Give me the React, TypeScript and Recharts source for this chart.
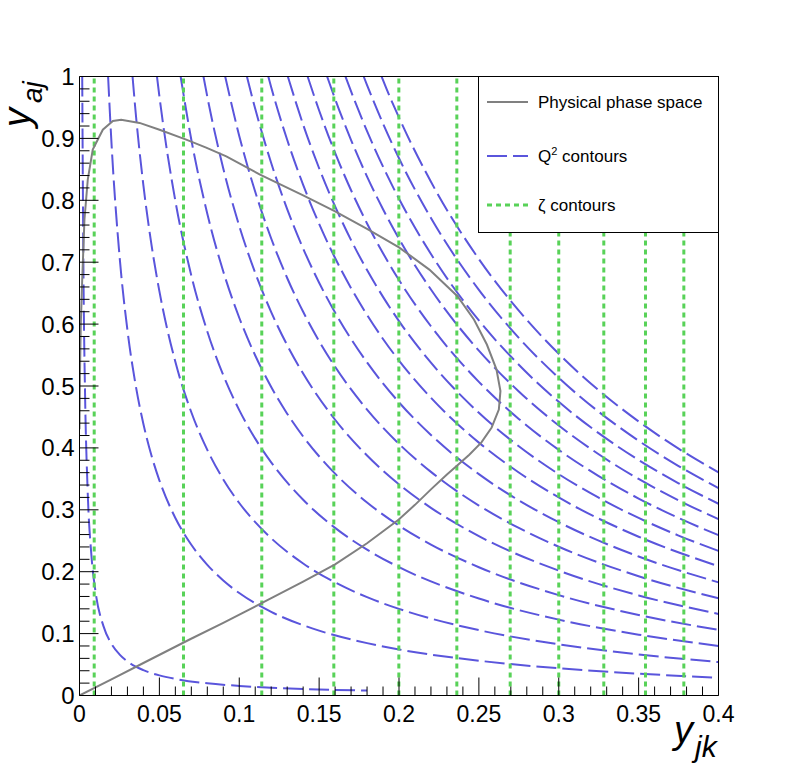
import React from 'react';
import { ComposedChart, Line, XAxis, YAxis, ReferenceLine } from 'recharts';

// ---------- data (y_jk, y_aj) ----------
const physicalPhaseSpace: number[][] = [
  [0, 0.43], [0.0003, 0.52], [0.0008, 0.6], [0.0017, 0.672], [0.0031, 0.769], [0.0052, 0.834],
  [0.0083, 0.882], [0.0146, 0.914], [0.0209, 0.928], [0.0261, 0.93], [0.0376, 0.925], [0.0501, 0.914],
  [0.0668, 0.898], [0.0793, 0.885], [0.0919, 0.871], [0.1127, 0.842], [0.14, 0.808], [0.16, 0.782],
  [0.18, 0.754], [0.2, 0.724], [0.219, 0.688], [0.2366, 0.645], [0.247, 0.607], [0.255, 0.567],
  [0.261, 0.527], [0.2635, 0.492], [0.2625, 0.462], [0.258, 0.433], [0.2516, 0.409], [0.244, 0.389],
  [0.2366, 0.372], [0.23, 0.357], [0.22, 0.333], [0.21, 0.308], [0.1997, 0.284], [0.18, 0.246],
  [0.16, 0.212], [0.14, 0.184], [0.1146, 0.15], [0.09, 0.1175], [0.0689, 0.0905], [0.04, 0.0525],
  [0.02, 0.026], [0, 0],
];

const q2Contour01 = [[0.0017, 1], [0.0025, 0.678], [0.0035, 0.484], [0.005, 0.338], [0.0075, 0.225], [0.01, 0.168], [0.015, 0.112], [0.02, 0.0835], [0.025, 0.0665], [0.03, 0.0551], [0.04, 0.041], [0.05, 0.0325], [0.06, 0.0268], [0.08, 0.0197], [0.1, 0.0155], [0.12, 0.0126], [0.15, 0.0098], [0.18, 0.0079]];
const q2Contour02 = [[0.0179, 1], [0.02, 0.8936], [0.025, 0.7116], [0.03, 0.5902], [0.035, 0.5036], [0.04, 0.4386], [0.045, 0.388], [0.05, 0.3476], [0.06, 0.2868], [0.07, 0.2435], [0.08, 0.2111], [0.09, 0.1858], [0.1, 0.1655], [0.12, 0.1352], [0.15, 0.1048], [0.18, 0.0846], [0.2, 0.0744], [0.25, 0.0562], [0.3, 0.044], [0.35, 0.0353], [0.4, 0.0287]];
const q2Contour03 = [[0.0332, 1], [0.035, 0.9463], [0.04, 0.8242], [0.045, 0.7291], [0.05, 0.6532], [0.06, 0.539], [0.07, 0.4576], [0.08, 0.3967], [0.09, 0.3491], [0.1, 0.311], [0.11, 0.28], [0.12, 0.254], [0.14, 0.2133], [0.16, 0.1827], [0.18, 0.1589], [0.2, 0.1399], [0.25, 0.1056], [0.3, 0.0827], [0.35, 0.0663], [0.4, 0.054]];
const q2Contour04 = [[0.0485, 1], [0.05, 0.9684], [0.06, 0.799], [0.07, 0.6784], [0.08, 0.5881], [0.09, 0.5175], [0.1, 0.4611], [0.11, 0.415], [0.12, 0.3766], [0.14, 0.3162], [0.16, 0.2708], [0.18, 0.2356], [0.2, 0.2074], [0.25, 0.1566], [0.3, 0.1226], [0.35, 0.0983], [0.4, 0.0801]];
const q2Contour05 = [[0.0633, 1], [0.07, 0.8978], [0.08, 0.7784], [0.09, 0.6849], [0.1, 0.6103], [0.11, 0.5493], [0.12, 0.4984], [0.13, 0.4553], [0.14, 0.4184], [0.16, 0.3584], [0.18, 0.3118], [0.2, 0.2744], [0.22, 0.2439], [0.25, 0.2072], [0.3, 0.1622], [0.35, 0.1301], [0.4, 0.106]];
const q2Contour06 = [[0.0776, 1], [0.08, 0.9674], [0.09, 0.8513], [0.1, 0.7585], [0.11, 0.6827], [0.12, 0.6195], [0.13, 0.566], [0.14, 0.5201], [0.16, 0.4455], [0.18, 0.3876], [0.2, 0.3411], [0.22, 0.3032], [0.25, 0.2575], [0.3, 0.2017], [0.35, 0.1617], [0.4, 0.1317]];
const q2Contour07 = [[0.0912, 1], [0.1, 0.904], [0.11, 0.8137], [0.12, 0.7383], [0.13, 0.6745], [0.14, 0.6199], [0.15, 0.5724], [0.16, 0.531], [0.18, 0.4619], [0.2, 0.4065], [0.22, 0.3613], [0.25, 0.3069], [0.275, 0.2707], [0.3, 0.2403], [0.35, 0.1927], [0.4, 0.157]];
const q2Contour08 = [[0.1048, 1], [0.11, 0.9479], [0.12, 0.8602], [0.13, 0.7858], [0.14, 0.7221], [0.15, 0.6669], [0.16, 0.6186], [0.17, 0.576], [0.18, 0.5381], [0.2, 0.4736], [0.22, 0.4209], [0.25, 0.3576], [0.275, 0.3153], [0.3, 0.28], [0.35, 0.2245], [0.4, 0.1828]];
const q2Contour09 = [[0.1182, 1], [0.12, 0.9827], [0.13, 0.8978], [0.14, 0.825], [0.15, 0.7619], [0.16, 0.7067], [0.17, 0.6581], [0.18, 0.6148], [0.19, 0.576], [0.2, 0.5411], [0.22, 0.4809], [0.25, 0.4085], [0.275, 0.3603], [0.3, 0.3199], [0.35, 0.2565], [0.4, 0.2089]];
const q2Contour10 = [[0.1304, 1], [0.14, 0.9223], [0.15, 0.8518], [0.16, 0.7901], [0.17, 0.7357], [0.18, 0.6873], [0.19, 0.644], [0.2, 0.6049], [0.22, 0.5376], [0.25, 0.4567], [0.275, 0.4027], [0.3, 0.3576], [0.325, 0.3195], [0.35, 0.2868], [0.375, 0.2584], [0.4, 0.2335]];
const q2Contour11 = [[0.1428, 1], [0.15, 0.9451], [0.16, 0.8766], [0.17, 0.8162], [0.18, 0.7626], [0.19, 0.7145], [0.2, 0.6712], [0.22, 0.5965], [0.25, 0.5067], [0.275, 0.4468], [0.3, 0.3968], [0.325, 0.3545], [0.35, 0.3182], [0.375, 0.2867], [0.4, 0.2591]];
const q2Contour12 = [[0.155, 1], [0.16, 0.9637], [0.17, 0.8973], [0.18, 0.8383], [0.19, 0.7855], [0.2, 0.7378], [0.22, 0.6558], [0.25, 0.5571], [0.275, 0.4912], [0.3, 0.4362], [0.325, 0.3897], [0.35, 0.3498], [0.375, 0.3152], [0.4, 0.2849]];
const q2Contour13 = [[0.1665, 1], [0.17, 0.9759], [0.18, 0.9117], [0.19, 0.8543], [0.2, 0.8025], [0.22, 0.7132], [0.25, 0.6059], [0.275, 0.5343], [0.3, 0.4744], [0.325, 0.4238], [0.35, 0.3804], [0.375, 0.3428], [0.4, 0.3098]];
const q2Contour14 = [[0.1779, 1], [0.18, 0.9861], [0.19, 0.9239], [0.2, 0.8679], [0.22, 0.7713], [0.25, 0.6553], [0.275, 0.5778], [0.3, 0.5131], [0.325, 0.4584], [0.35, 0.4115], [0.375, 0.3707], [0.4, 0.3351]];
const q2Contour15 = [[0.1891, 1], [0.19, 0.994], [0.2, 0.9337], [0.22, 0.8299], [0.25, 0.705], [0.275, 0.6217], [0.3, 0.552], [0.325, 0.4931], [0.35, 0.4427], [0.375, 0.3988], [0.4, 0.3605]];

const zetaContours = [0.0092, 0.0651, 0.1141, 0.1592, 0.1999, 0.2362, 0.2696, 0.3, 0.3282, 0.3543, 0.3783];

const xMajorTicks = [0, 0.05, 0.1, 0.15, 0.2, 0.25, 0.3, 0.35, 0.4];
const xMajorLabels = ['0', '0.05', '0.1', '0.15', '0.2', '0.25', '0.3', '0.35', '0.4'];
const xAllTicks = [0, 0.01, 0.02, 0.03, 0.04, 0.05, 0.06, 0.07, 0.08, 0.09, 0.1, 0.11, 0.12, 0.13, 0.14, 0.15, 0.16, 0.17, 0.18, 0.19, 0.2, 0.21, 0.22, 0.23, 0.24, 0.25, 0.26, 0.27, 0.28, 0.29, 0.3, 0.31, 0.32, 0.33, 0.34, 0.35, 0.36, 0.37, 0.38, 0.39, 0.4];
const yMajorTicks = [0, 0.1, 0.2, 0.3, 0.4, 0.5, 0.6, 0.7, 0.8, 0.9, 1];
const yMajorLabels = ['0', '0.1', '0.2', '0.3', '0.4', '0.5', '0.6', '0.7', '0.8', '0.9', '1'];
const yAllTicks = [0, 0.02, 0.04, 0.06, 0.08, 0.1, 0.12, 0.14, 0.16, 0.18, 0.2, 0.22, 0.24, 0.26, 0.28, 0.3, 0.32, 0.34, 0.36, 0.38, 0.4, 0.42, 0.44, 0.46, 0.48, 0.5, 0.52, 0.54, 0.56, 0.58, 0.6, 0.62, 0.64, 0.66, 0.68, 0.7, 0.72, 0.74, 0.76, 0.78, 0.8, 0.82, 0.84, 0.86, 0.88, 0.9, 0.92, 0.94, 0.96, 0.98, 1];

const legendLabels = ['Physical phase space', 'contours', 'contours'];

// ---------- styles ----------
const W = 798;
const H = 774;
const FONT = "'Liberation Sans', Arial, Helvetica, sans-serif";
const GRAY = '#808080';
const BLUE = '#5a55dc';
const GREEN = '#58d258';
const BLUE_DASH = '20 6';
const GREEN_DASH = '5 4';

const q2Contours = [q2Contour01, q2Contour02, q2Contour03, q2Contour04, q2Contour05, q2Contour06, q2Contour07, q2Contour08, q2Contour09, q2Contour10, q2Contour11, q2Contour12, q2Contour13, q2Contour14, q2Contour15];
const toPts = (a: number[][]) => a.map(([x, y]) => ({ x, y }));

const majorIndex = (list: number[], v: number) => list.findIndex((m) => Math.abs(m - v) < 1e-9);

const renderXTick = (props: any) => {
  const { x, y, payload } = props;
  const idx = majorIndex(xMajorTicks, payload.value);
  const major = idx >= 0;
  return (
    <g key={'xt' + payload.value}>
      <line x1={x} x2={x} y1={y} y2={y - (major ? 18 : 9)} stroke="#000" strokeWidth={1} />
      {major && (
        <text x={x} y={y + 26} textAnchor="middle" fontSize={23} fontFamily={FONT} fill="#000">
          {xMajorLabels[idx]}
        </text>
      )}
    </g>
  );
};

const renderYTick = (props: any) => {
  const { x, y, payload } = props;
  const idx = majorIndex(yMajorTicks, payload.value);
  const major = idx >= 0;
  return (
    <g key={'yt' + payload.value}>
      <line x1={x} x2={x + (major ? 19 : 10)} y1={y} y2={y} stroke="#000" strokeWidth={1} />
      {major && (
        <text x={x - 5} y={y + 8.5} textAnchor="end" fontSize={24} fontFamily={FONT} fill="#000">
          {yMajorLabels[idx]}
        </text>
      )}
    </g>
  );
};

export default function App() {
  return (
    <div style={{ position: 'absolute', left: 0, top: 0, width: W, height: H, background: '#fff' }}>
      <ComposedChart width={W} height={H} margin={{ top: 76.5, right: 79.5, bottom: 0.5, left: 0.5 }}>
        <XAxis
          type="number"
          dataKey="x"
          domain={[0, 0.4]}
          ticks={xAllTicks}
          interval={0}
          height={78}
          tickSize={0}
          tickMargin={0}
          tickLine={false}
          axisLine={{ stroke: '#000', strokeWidth: 1 }}
          tick={renderXTick}
          allowDataOverflow
        />
        <YAxis
          type="number"
          dataKey="y"
          domain={[0, 1]}
          ticks={yAllTicks}
          interval={0}
          width={79}
          tickSize={0}
          tickMargin={0}
          tickLine={false}
          axisLine={{ stroke: '#000', strokeWidth: 1 }}
          tick={renderYTick}
          allowDataOverflow
        />
        {q2Contours.map((c, i) => (
          <Line
            key={'q' + i}
            data={toPts(c)}
            dataKey="y"
            type="monotone"
            stroke={BLUE}
            strokeWidth={2}
            strokeDasharray={BLUE_DASH}
            dot={false}
            activeDot={false}
            isAnimationActive={false}
          />
        ))}
        {zetaContours.map((v) => (
          <ReferenceLine key={'z' + v} x={v} stroke={GREEN} strokeWidth={3} strokeDasharray={GREEN_DASH} />
        ))}
        <Line
          data={toPts(physicalPhaseSpace)}
          dataKey="y"
          type="linear"
          stroke={GRAY}
          strokeWidth={2}
          dot={false}
          activeDot={false}
          isAnimationActive={false}
        />
        <ReferenceLine y={1} stroke="#000" strokeWidth={1} />
        <ReferenceLine x={0.4} stroke="#000" strokeWidth={1} />
      </ComposedChart>
      <svg width={W} height={H} style={{ position: 'absolute', left: 0, top: 0, pointerEvents: 'none' }}>
        {/* legend */}
        <rect x={478.5} y={76.5} width={240} height={156} fill="#fff" stroke="#000" strokeWidth={1} />
        <line x1={487} x2={528} y1={102} y2={102} stroke={GRAY} strokeWidth={2} />
        <line x1={487} x2={528} y1={156} y2={156} stroke={BLUE} strokeWidth={2} strokeDasharray={BLUE_DASH} />
        <line x1={487} x2={528} y1={205} y2={205} stroke={GREEN} strokeWidth={3} strokeDasharray={GREEN_DASH} />
        <text x={538} y={108} fontSize={17} fontFamily={FONT} fill="#000">{legendLabels[0]}</text>
        <text x={538} y={162} fontSize={17} fontFamily={FONT} fill="#000">
          Q<tspan fontSize={11} dy={-7}>2</tspan>
          <tspan dy={7}> {legendLabels[1]}</tspan>
        </text>
        <text x={538} y={211} fontSize={17} fontFamily={FONT} fill="#000">ζ {legendLabels[2]}</text>
        {/* axis titles */}
        <text x={674} y={743} fontSize={38} fontStyle="italic" fontFamily={FONT} fill="#000">
          y<tspan fontSize={30} dx={2} dy={14}>jk</tspan>
        </text>
        <text transform="translate(30,127) rotate(-90)" fontSize={38} fontStyle="italic" fontFamily={FONT} fill="#000">
          y<tspan fontSize={28} dx={5} dy={12}>aj</tspan>
        </text>
      </svg>
    </div>
  );
}
